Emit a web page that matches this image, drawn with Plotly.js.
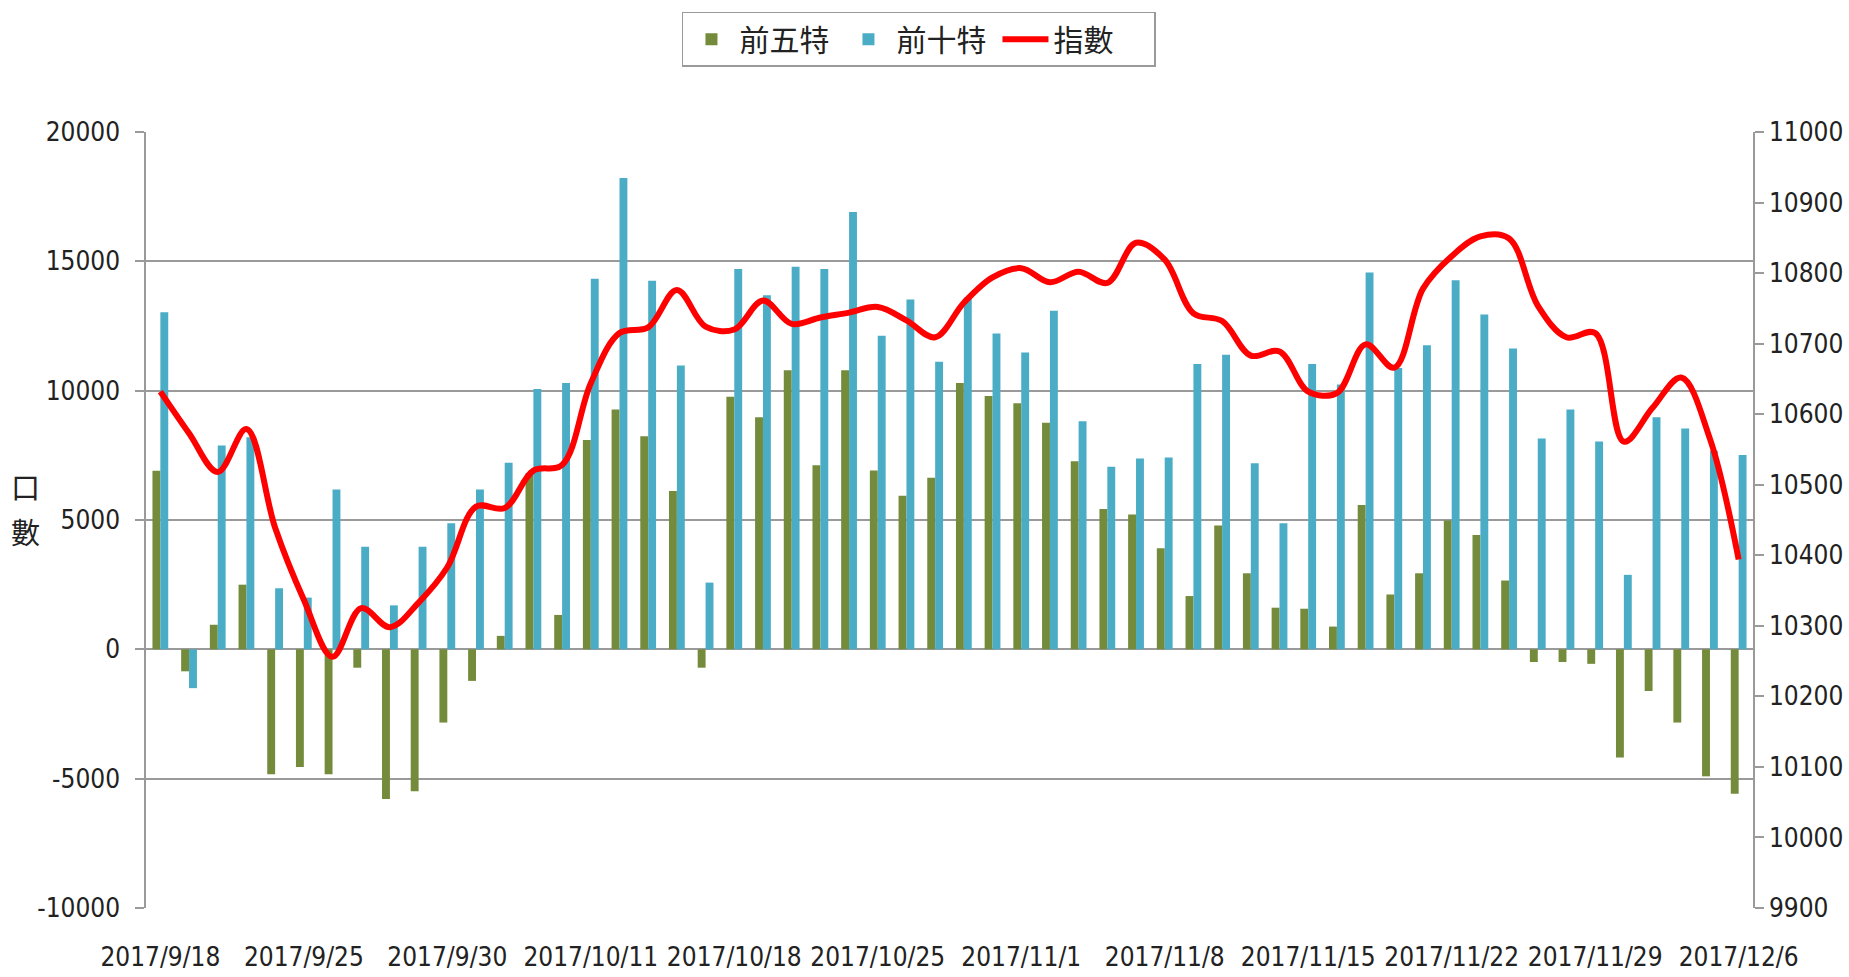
<!DOCTYPE html>
<html>
<head>
<meta charset="utf-8">
<script src="https://cdn.plot.ly/plotly-3.0.1.min.js"></script>
<style>
  html, body { margin: 0; padding: 0; background: #ffffff; }
  #chart { width: 1849px; height: 977px; }
</style>
</head>
<body>
<div id="chart"></div>
<script>
// Trading days (categories)
const dates = [
  "2017/9/18","2017/9/19","2017/9/20","2017/9/21","2017/9/22",
  "2017/9/25","2017/9/26","2017/9/27","2017/9/28","2017/9/29",
  "2017/9/30","2017/10/2","2017/10/3","2017/10/5","2017/10/6",
  "2017/10/11","2017/10/12","2017/10/13","2017/10/16","2017/10/17",
  "2017/10/18","2017/10/19","2017/10/20","2017/10/23","2017/10/24",
  "2017/10/25","2017/10/26","2017/10/27","2017/10/30","2017/10/31",
  "2017/11/1","2017/11/2","2017/11/3","2017/11/6","2017/11/7",
  "2017/11/8","2017/11/9","2017/11/10","2017/11/13","2017/11/14",
  "2017/11/15","2017/11/16","2017/11/17","2017/11/20","2017/11/21",
  "2017/11/22","2017/11/23","2017/11/24","2017/11/27","2017/11/28",
  "2017/11/29","2017/11/30","2017/12/1","2017/12/4","2017/12/5",
  "2017/12/6"
];

// Tick labels shown on the x axis
const tickDates = [
  "2017/9/18","2017/9/25","2017/9/30","2017/10/11","2017/10/18","2017/10/25",
  "2017/11/1","2017/11/8","2017/11/15","2017/11/22","2017/11/29","2017/12/6"
];

// Left axis ticks (口數) and right axis ticks (指數)
const leftTicks = [-10000, -5000, 0, 5000, 10000, 15000, 20000];
const leftTickText = ["-10000", "-5000", "0", "5000", "10000", "15000", "20000"];
const rightTicks = [9900, 10000, 10100, 10200, 10300, 10400, 10500, 10600, 10700, 10800, 10900, 11000];
const rightTickText = ["9900", "10000", "10100", "10200", "10300", "10400", "10500", "10600", "10700", "10800", "10900", "11000"];

// 前五特 (top-5 traders net position)
const top5 = [
  6900, -850, 950, 2500, -4830, -4550, -4830, -710, -5790, -5490,
  -2830, -1220, 520, 6820, 1330, 8090, 9270, 8240, 6120, -710,
  9760, 8970, 10790, 7120, 10790, 6910, 5940, 6630, 10300, 9790,
  9510, 8760, 7270, 5430, 5210, 3910, 2060, 4790, 2940, 1610,
  1570, 880, 5580, 2120, 2940, 4980, 4420, 2660, -490, -490,
  -560, -4180, -1610, -2830, -4910, -5580
];

// 前十特 (top-10 traders net position)
const top10 = [
  13030, -1500, 7880, 8200, 2360, 2000, 6180, 3970, 1700, 3970,
  4870, 6180, 7210, 10060, 10300, 14330, 18220, 14250, 10970, 2580,
  14700, 13690, 14790, 14700, 16910, 12120, 13520, 11120, 13600, 12210,
  11480, 13090, 8820, 7060, 7380, 7420, 11030, 11390, 7190, 4870,
  11030, 10240, 14570, 10880, 11760, 14270, 12940, 11630, 8150, 9270,
  8030, 2880, 8970, 8540, 7680, 7510
];

// 指數 (index level, right axis)
const indexLevel = [
  10632, 10573, 10518, 10579, 10439, 10337, 10256, 10325, 10298, 10333,
  10383, 10469, 10467, 10520, 10528, 10644, 10715, 10723, 10776, 10724,
  10720, 10761, 10728, 10737, 10744, 10752, 10733, 10709, 10758, 10794,
  10807, 10787, 10802, 10786, 10843, 10819, 10743, 10732, 10683, 10689,
  10632, 10630, 10699, 10666, 10778, 10824, 10852, 10849, 10754, 10709,
  10715, 10561, 10609, 10652, 10565, 10394
];

// Y-axis title characters (stacked vertically)
const yTitleChars = ["口", "數"];

const tickFont = { family: "'Liberation Sans Narrow', 'DejaVu Sans Condensed', 'Arial Narrow', sans-serif", size: 26, color: "#222222" };
const cjkFont = "'Noto Sans CJK TC', 'Noto Sans CJK SC', sans-serif";
const gridCol = "#9a9a9a";

const traces = [
  {
    type: "bar", name: "前五特", x: dates, y: top5,
    marker: { color: "#738B3A" }, yaxis: "y"
  },
  {
    type: "bar", name: "前十特", x: dates, y: top10,
    marker: { color: "#4BACC6" }, yaxis: "y"
  },
  {
    type: "scatter", mode: "lines", name: "指數", x: dates, y: indexLevel,
    line: { color: "#FF0000", width: 6, shape: "spline", smoothing: 1 },
    yaxis: "y2"
  }
];

const layout = {
  width: 1849, height: 977,
  paper_bgcolor: "#ffffff", plot_bgcolor: "#ffffff",
  margin: { l: 146, r: 96, t: 127, b: 69 },
  barmode: "group", bargap: 0.45, bargroupgap: 0,
  showlegend: true,
  legend: {
    orientation: "h", x: 0.481, xanchor: "center", y: 1.155, yanchor: "top",
    bordercolor: "#9a9a9a", borderwidth: 1.5, bgcolor: "#ffffff",
    font: { family: cjkFont, size: 30, color: "#222222" },
    entrywidth: 96, itemwidth: 46, traceorder: "normal"
  },
  xaxis: {
    type: "category", categoryorder: "array", categoryarray: dates,
    range: [-0.5, dates.length - 0.5],
    tickmode: "array", tickvals: tickDates, ticktext: tickDates,
    tickangle: 0, ticks: "outside", ticklen: 26, tickcolor: "rgba(0,0,0,0)",
    showgrid: false, showline: false, zeroline: false,
    tickfont: tickFont
  },
  yaxis: {
    range: [-10000, 20000],
    tickmode: "array", tickvals: leftTicks, ticktext: leftTickText,
    showgrid: true, gridcolor: gridCol, gridwidth: 1.5,
    zeroline: false, showline: true, linecolor: gridCol, linewidth: 1.5,
    ticks: "outside", ticklen: 9, tickcolor: gridCol, tickwidth: 1.5,
    ticklabelstandoff: 10,
    tickfont: tickFont
  },
  yaxis2: {
    overlaying: "y", side: "right",
    range: [9900, 11000],
    tickmode: "array", tickvals: rightTicks, ticktext: rightTickText,
    showgrid: false, zeroline: false,
    showline: true, linecolor: gridCol, linewidth: 1.5,
    ticks: "outside", ticklen: 9, tickcolor: gridCol, tickwidth: 1.5,
    tickfont: tickFont
  },
  annotations: yTitleChars.map((ch, i) => ({
    xref: "paper", yref: "paper", x: -0.0747, y: 0.544 - i * 0.058,
    xanchor: "center", yanchor: "middle", showarrow: false,
    text: ch,
    font: { family: cjkFont, size: 29, color: "#222222" }
  }))
};

Plotly.newPlot("chart", traces, layout, { displayModeBar: false, responsive: false });
</script>
</body>
</html>
